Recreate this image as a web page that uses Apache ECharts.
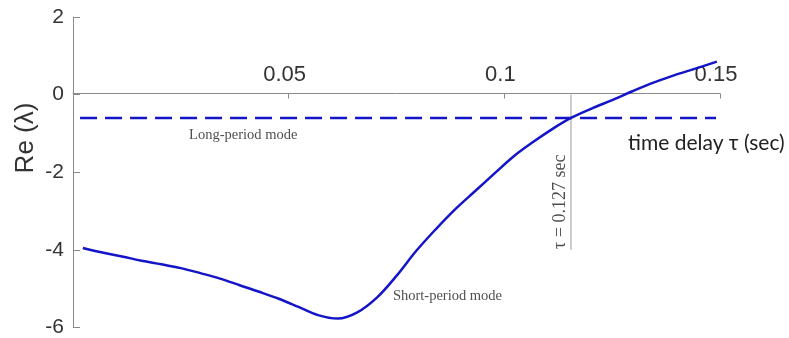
<!DOCTYPE html>
<html>
<head>
<meta charset="utf-8">
<script src="https://cdn.jsdelivr.net/npm/echarts@6/dist/echarts.min.js"></script>
<style>
  html, body { margin: 0; padding: 0; background: #fff; }
  #chart { width: 789px; height: 338px; }
</style>
</head>
<body>
<div id="chart"></div>
<script>
// Tick labels of the printed time-delay axis
const tauTicks = [0.05, 0.1, 0.15];
const yTicks = [-6, -4, -2, 0, 2];

// Short-period mode: real part of the eigenvalue vs. time delay (sec)
const tauShort = [0.0025, 0.0075, 0.0125, 0.0175, 0.0225, 0.0275, 0.0325, 0.0375, 0.0425, 0.0475,
                  0.0525, 0.0575, 0.0625, 0.0675, 0.0725, 0.0775, 0.0825, 0.0875, 0.0925, 0.0975,
                  0.1025, 0.1075, 0.1125, 0.1175, 0.1225, 0.1270, 0.1325, 0.1375, 0.1425, 0.1475,
                  0.1525, 0.1575, 0.1642];
const reShort  = [-3.95, -4.07, -4.17, -4.28, -4.37, -4.47, -4.60, -4.74, -4.91, -5.08,
                  -5.26, -5.47, -5.68, -5.77, -5.61, -5.23, -4.67, -4.03, -3.47, -2.95,
                  -2.49, -2.03, -1.58, -1.21, -0.87, -0.60, -0.35, -0.14, 0.08, 0.29,
                  0.47, 0.63, 0.85];

// Long-period mode: constant real part
const tauLong = [0.0018, 0.164];
const reLong  = [-0.6, -0.6];

// Critical delay where both modes have the same real part
const tauCritical = 0.127;
const reCriticalSpan = [0, -4];

// Data range of the delay axis on which the curves are computed
const tauDataMax = 0.165;

const blue = '#1414c8';
const sansFont = '"Liberation Sans", Arial, sans-serif';
const serifFont = '"Liberation Serif", "Times New Roman", serif';

// Plot area
const gridTop = 17, gridHeight = 312;
const yMin = yTicks[0], yMax = yTicks[yTicks.length - 1];
// The delay axis is drawn along Re = 0
const zeroFromBottom = gridHeight * (0 - yMin) / (yMax - yMin);

const chart = echarts.init(document.getElementById('chart'));

chart.setOption({
  animation: false,
  backgroundColor: '#fff',
  grid: { left: 73, right: 69, top: gridTop, height: gridHeight, containLabel: false },
  xAxis: [
    {
      type: 'value',
      position: 'bottom',
      offset: -zeroFromBottom,
      min: 0,
      max: tauTicks[tauTicks.length - 1],
      interval: tauTicks[1] - tauTicks[0],
      axisLine: { show: true, onZero: false, lineStyle: { color: '#8a8a8a', width: 1 } },
      axisTick: { show: true, inside: false, length: 5, lineStyle: { color: '#8a8a8a' } },
      axisLabel: {
        inside: true, margin: 8, showMinLabel: false,
        padding: [0, 8, 0, 0],
        fontFamily: sansFont, fontSize: 22, color: '#333',
        formatter: v => String(v)
      },
      splitLine: { show: false }
    },
    {
      type: 'value',
      min: 0,
      max: tauDataMax,
      show: false
    }
  ],
  yAxis: {
    type: 'value',
    min: yMin,
    max: yMax,
    interval: yTicks[1] - yTicks[0],
    axisLine: { show: true, onZero: false, lineStyle: { color: '#8a8a8a', width: 1 } },
    axisTick: { show: true, inside: true, length: 7, lineStyle: { color: '#8a8a8a' } },
    axisLabel: { margin: 9, fontFamily: sansFont, fontSize: 21, color: '#333' },
    splitLine: { show: false }
  },
  graphic: [
    {
      type: 'text',
      x: 26, y: 138,
      rotation: Math.PI / 2,
      style: {
        text: 'Re (λ)', fontFamily: sansFont, fontSize: 26, fill: '#333',
        align: 'center', verticalAlign: 'middle'
      }
    },
    {
      type: 'text',
      x: 628, y: 143,
      style: {
        text: 'time delay τ (sec)', fontFamily: 'Lato, "Open Sans", sans-serif', fontSize: 21, fill: '#222',
        align: 'left', verticalAlign: 'middle'
      }
    }
  ],
  series: [
    {
      name: 'Long-period mode',
      type: 'line',
      xAxisIndex: 1,
      data: tauLong.map((t, i) => [t, reLong[i]]),
      showSymbol: false,
      lineStyle: { color: blue, width: 2.5, type: [17, 8] }
    },
    {
      name: 'Short-period mode',
      type: 'line',
      xAxisIndex: 1,
      smooth: 0.35,
      data: tauShort.map((t, i) => [t, reShort[i]]),
      showSymbol: false,
      lineStyle: { color: blue, width: 2.5 }
    },
    {
      name: 'critical delay',
      type: 'line',
      xAxisIndex: 1,
      data: reCriticalSpan.map(r => [tauCritical, r]),
      showSymbol: false,
      lineStyle: { color: '#9a9a9a', width: 1 },
      z: 1
    },
    {
      name: 'annotations',
      type: 'scatter',
      xAxisIndex: 1,
      symbolSize: 0,
      silent: true,
      data: [
        { value: [0.0434, -1.04], label: { formatter: 'Long-period mode' } },
        { value: [0.0955, -5.19], label: { formatter: 'Short-period mode' } },
        { value: [tauCritical, -2.76], label: { formatter: 'τ = 0.127 sec', rotate: 90, offset: [0, -11], fontSize: 18 } }
      ],
      label: {
        show: true, position: 'inside',
        fontFamily: serifFont, fontSize: 14.5, color: '#222'
      }
    }
  ]
});
</script>
</body>
</html>
